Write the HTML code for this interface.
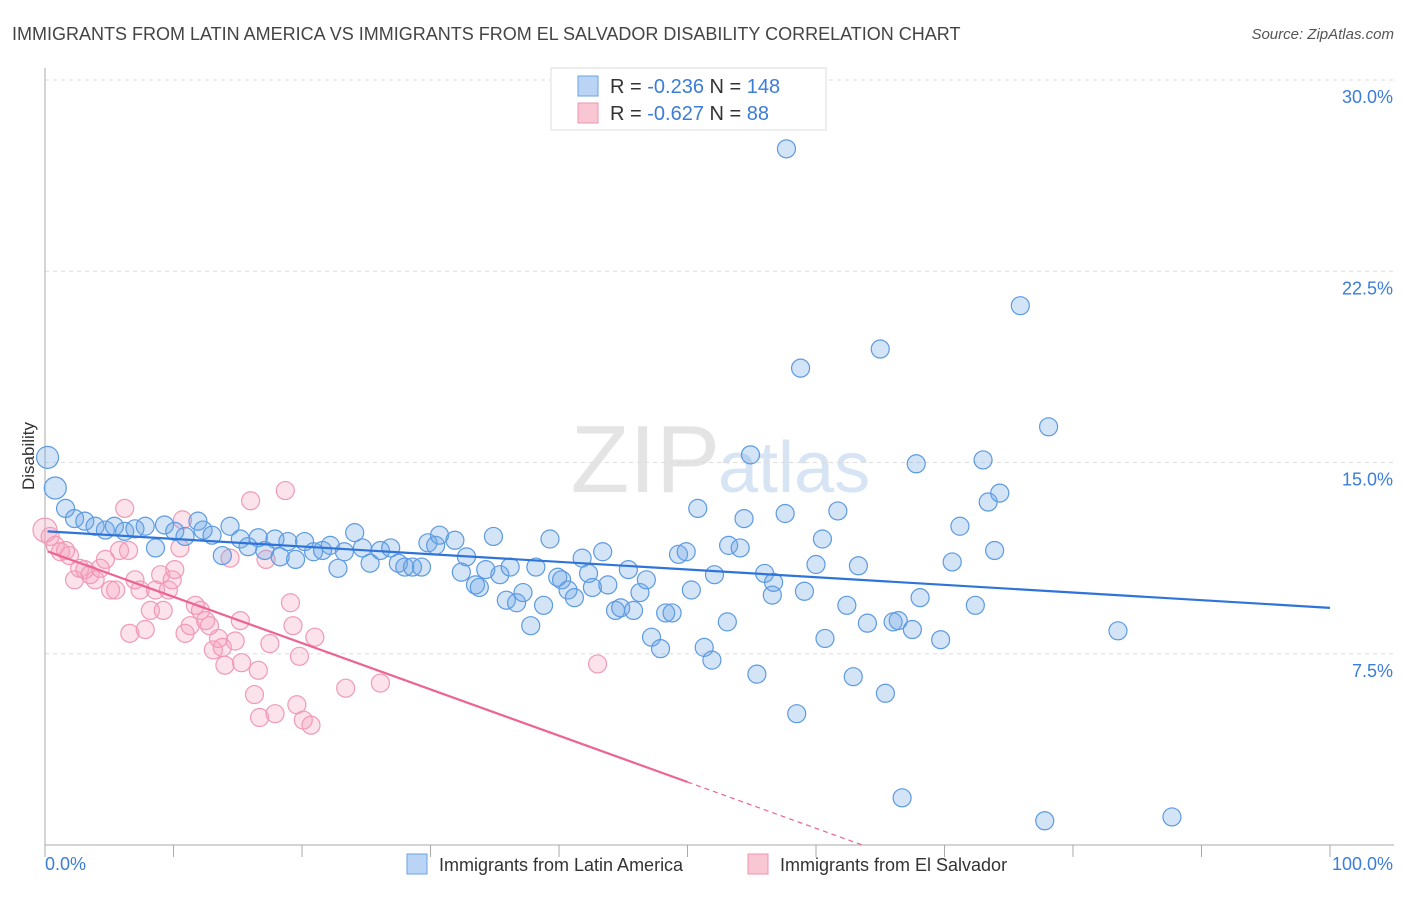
<!DOCTYPE html>
<html><head><meta charset="utf-8">
<style>
body{margin:0;background:#fff;font-family:"Liberation Sans",sans-serif;}
svg text{font-family:"Liberation Sans",sans-serif;}
</style></head>
<body>
<svg id="chart" width="1406" height="892" xmlns="http://www.w3.org/2000/svg">
<text x="12" y="40" font-size="18" fill="#444">IMMIGRANTS FROM LATIN AMERICA VS IMMIGRANTS FROM EL SALVADOR DISABILITY CORRELATION CHART</text>
<text x="1394" y="39" font-size="15" fill="#555" font-style="italic" text-anchor="end">Source: ZipAtlas.com</text>
<text x="720" y="492" font-size="96" fill="#e4e4e4" text-anchor="end" font-family="Liberation Serif">ZIP</text>
<text x="718" y="492" font-size="72" fill="#d6e4f4">atlas</text>
<text transform="translate(34,456) rotate(-90)" font-size="17" fill="#333" text-anchor="middle">Disability</text>
<g id="grid"></g>
<g id="axes"></g>
<g id="marks"></g>
<g>
<rect x="551" y="68" width="275" height="62" fill="#fff" stroke="#ddd"/>
<rect x="578" y="76" width="20" height="20" fill="#b9d4f4" stroke="#6aa3e6"/>
<text x="610" y="93" font-size="20" fill="#333">R = <tspan fill="#3b7dd8">-0.236</tspan>   N = <tspan fill="#3b7dd8">148</tspan></text>
<rect x="578" y="103" width="20" height="20" fill="#f9c6d4" stroke="#ef94b0"/>
<text x="610" y="120" font-size="20" fill="#333">R = <tspan fill="#3b7dd8">-0.627</tspan>   N = <tspan fill="#3b7dd8">  88</tspan></text>
</g>
<g>
<rect x="407" y="854" width="20" height="20" fill="#b9d4f4" stroke="#6aa3e6"/>
<text x="439" y="871" font-size="18" fill="#333">Immigrants from Latin America</text>
<rect x="748" y="854" width="20" height="20" fill="#f9c6d4" stroke="#ef94b0"/>
<text x="780" y="871" font-size="18" fill="#333">Immigrants from El Salvador</text>
</g>
</svg>
<script>
const yTicks=[7.5,15,22.5,30];
const yTickLabels=["7.5%","15.0%","22.5%","30.0%"];
const xTicks=[0,10,20,30,40,50,60,70,80,90,100];
const xTickLabels=["0.0%","100.0%"];
const blueX=[0.2,0.8,1.6,2.3,3.1,3.9,4.7,5.4,6.2,7.0,7.8,8.6,9.3,10.1,10.9,11.9,12.3,13.0,13.8,14.4,15.2,15.8,16.6,17.1,17.9,18.3,18.9,19.5,20.2,20.9,21.6,22.2,22.8,23.3,24.1,24.7,25.3,26.1,26.9,27.5,28.0,28.6,29.3,29.8,30.4,30.7,31.9,32.4,32.8,33.5,33.8,34.3,34.9,35.4,35.9,36.2,36.7,37.2,37.8,38.2,38.8,39.3,39.9,40.2,40.7,41.2,41.8,42.3,42.6,43.4,43.8,44.4,44.8,45.4,45.8,46.3,46.8,47.2,47.9,48.3,48.8,49.3,49.9,50.3,50.8,51.3,51.9,52.1,53.1,53.2,54.1,54.4,54.9,55.4,56.0,56.6,56.7,57.6,57.7,58.5,58.8,59.1,60.0,60.5,60.7,61.7,62.4,62.9,63.3,64.0,65.0,65.4,66.0,66.4,66.7,67.5,67.8,68.1,69.7,70.6,71.2,72.4,73.0,73.4,73.9,74.3,75.9,77.8,78.1,83.5,87.7];
const blueY=[15.2,14.0,13.2,12.8,12.7,12.5,12.35,12.5,12.3,12.4,12.5,11.65,12.55,12.3,12.1,12.7,12.35,12.15,11.35,12.5,12.0,11.7,12.05,11.55,12.0,11.3,11.9,11.2,11.9,11.5,11.55,11.75,10.85,11.5,12.25,11.65,11.05,11.55,11.65,11.05,10.9,10.9,10.9,11.85,11.75,12.15,11.95,10.7,11.3,10.2,10.1,10.8,12.1,10.6,9.6,10.9,9.5,9.9,8.6,10.9,9.4,12.0,10.5,10.4,10.0,9.7,11.25,10.65,10.1,11.5,10.2,9.2,9.3,10.8,9.2,9.9,10.4,8.15,7.7,9.1,9.1,11.4,11.5,10.0,13.2,7.75,7.25,10.6,8.75,11.75,11.65,12.8,15.3,6.7,10.65,9.8,10.3,13.0,27.3,5.15,18.7,9.95,11.0,12.0,8.1,13.1,9.4,6.6,10.95,8.7,19.45,5.95,8.75,8.8,1.85,8.45,14.95,9.7,8.05,11.1,12.5,9.4,15.1,13.45,11.55,13.8,21.15,0.95,16.4,8.4,1.1];
const pinkX=[0,0.4,0.8,1.2,1.6,1.9,2.3,2.7,3.1,3.5,3.9,4.3,4.7,5.1,5.5,5.8,6.2,6.5,6.6,7.0,7.4,7.8,8.2,8.6,9.0,9.2,9.6,9.9,10.1,10.5,10.7,10.9,11.3,11.7,12.1,12.5,12.8,13.1,13.5,13.8,14.0,14.4,14.8,15.2,15.3,16.0,16.3,16.6,16.7,17.2,17.5,17.9,18.7,19.1,19.3,19.6,19.8,20.1,20.7,21.0,23.4,26.1,43.0];
const pinkY=[12.35,12.1,11.75,11.5,11.55,11.35,10.4,10.85,10.8,10.6,10.4,10.85,11.2,10.0,10.0,11.55,13.2,11.55,8.3,10.4,10.0,8.45,9.2,10.0,10.6,9.2,10.0,10.4,10.8,11.65,12.75,8.3,8.6,9.4,9.2,8.8,8.6,7.65,8.1,7.75,7.05,11.25,8.0,8.8,7.15,13.5,5.9,6.85,5.0,11.2,7.9,5.15,13.9,9.5,8.6,5.5,7.4,4.9,4.7,8.15,6.15,6.35,7.1];
const blueTrend=[12.3,9.3];
const pinkTrend=[11.55,-0.1816];
const NS="http://www.w3.org/2000/svg";
const X0=45,X1=1330,Y0=845,Y30=80;
function xs(v){return X0+(X1-X0)*v/100;}
function ys(v){return Y0-(Y0-Y30)*v/30;}
function mk(tag,attrs,parent){const e=document.createElementNS(NS,tag);for(const k in attrs)e.setAttribute(k,attrs[k]);parent.appendChild(e);return e;}
const grid=document.getElementById('grid'),axes=document.getElementById('axes'),marks=document.getElementById('marks');
yTicks.forEach((t,i)=>{
 const l=mk('line',{x1:X0,x2:1394,y1:ys(t),y2:ys(t),stroke:'#ddd','stroke-dasharray':'4,4'},grid);
 
 
 const tx=mk('text',{x:1393,y:ys(t)+23,'font-size':18,fill:'#3b7dd8','text-anchor':'end'},axes);
 tx.textContent=yTickLabels[i];
 
 
});
const ya=mk('line',{x1:X0,x2:X0,y1:68,y2:Y0,stroke:'#aaa'},axes);


const xa=mk('line',{x1:X0,x2:1394,y1:Y0,y2:Y0,stroke:'#aaa'},axes);


xTicks.forEach(t=>{
 const l=mk('line',{x1:xs(t),x2:xs(t),y1:Y0,y2:Y0+12,stroke:'#aaa'},axes);
 
 
});
const xl0=mk('text',{x:45,y:870,'font-size':18,fill:'#3b7dd8'},axes);xl0.textContent=xTickLabels[0];


const xl1=mk('text',{x:1393,y:870,'font-size':18,fill:'#3b7dd8','text-anchor':'end'},axes);xl1.textContent=xTickLabels[1];


pinkX.forEach((x,i)=>{
 const c=mk('circle',{cx:xs(x),cy:ys(pinkY[i]),r:i===0?12:9,fill:'rgba(245,160,188,0.3)',stroke:'#f09ab4','stroke-width':1.2},marks);
 
 
});
blueX.forEach((x,i)=>{
 const c=mk('circle',{cx:xs(x),cy:ys(blueY[i]),r:i<2?11:9,fill:'rgba(110,165,230,0.3)',stroke:'#5c9ae2','stroke-width':1.2},marks);
 
 
});
const bl=mk('line',{x1:xs(0.2),y1:ys(blueTrend[0]),x2:xs(100),y2:ys(blueTrend[1]),stroke:'#2f74d8','stroke-width':2.2},marks);


const pv=x=>pinkTrend[0]+pinkTrend[1]*x;
const pl=mk('line',{x1:xs(0.2),y1:ys(pv(0.2)),x2:xs(50),y2:ys(pv(50)),stroke:'#ec6492','stroke-width':2.2},marks);


const xEnd=-pinkTrend[0]/pinkTrend[1];
const pd=mk('line',{x1:xs(50),y1:ys(pv(50)),x2:xs(xEnd),y2:ys(0),stroke:'#ec6492','stroke-width':1.2,'stroke-dasharray':'5,4'},marks);


</script>
</body></html>
